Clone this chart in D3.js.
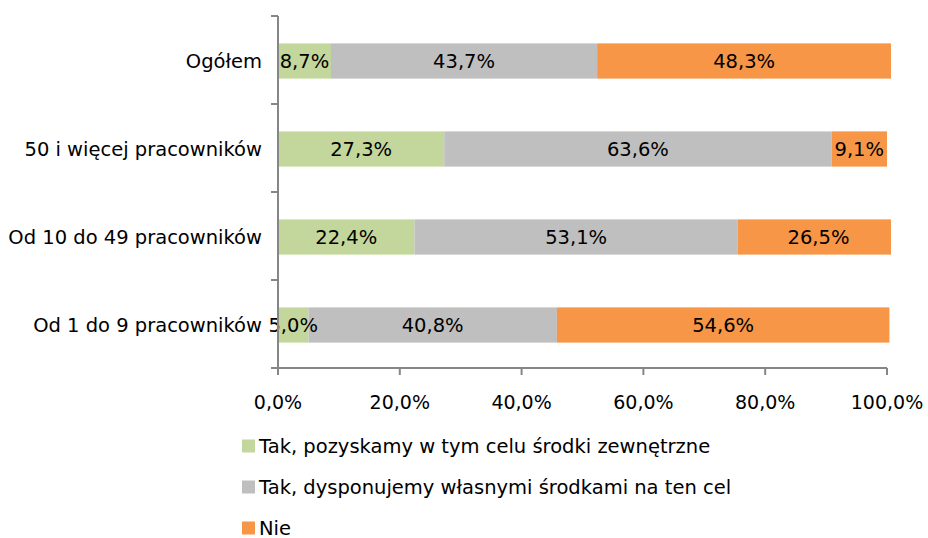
<!DOCTYPE html>
<html>
<head>
<meta charset="utf-8">
<script src="https://cdn.jsdelivr.net/npm/d3@7"></script>
<style>
  body { margin: 0; background: #fff; }
  text { font-family: "DejaVu Sans", Verdana, sans-serif; fill: #000; }
</style>
</head>
<body>
<svg id="chart" width="928" height="538"></svg>
<script>
const categories = ["Ogółem", "50 i więcej pracowników", "Od 10 do 49 pracowników", "Od 1 do 9 pracowników"];
const seriesNames = ["Tak, pozyskamy w tym celu środki zewnętrzne", "Tak, dysponujemy własnymi środkami na ten cel", "Nie"];
const external = [8.7, 27.3, 22.4, 5.0];
const own = [43.7, 63.6, 53.1, 40.8];
const no = [48.3, 9.1, 26.5, 54.6];
const xTicks = [0, 20, 40, 60, 80, 100];
const colors = ["#C3D69B", "#BFBFBF", "#F79646"];

const svg = d3.select("#chart");
const plotLeft = 278, plotRight = 887, plotTop = 17, plotBottom = 369;
const clipRight = 891; // bars past 100% get cut at the plot area edge
const axisColor = "#868686";
const fs = 19.5;
const fmt = (v) => v.toFixed(1).replace(".", ",") + "%";

const rows = categories.map((c, i) => ({ cat: c, s0: external[i], s1: own[i], s2: no[i] }));
const stack = d3.stack().keys(["s0", "s1", "s2"])(rows);

const x = d3.scaleLinear().domain([0, 100]).range([plotLeft, plotRight]);
const y = d3.scaleBand().domain(categories).range([plotTop, plotBottom])
  .paddingInner(0.6).paddingOuter(0.3);

svg.append("defs").append("clipPath").attr("id", "plot-clip")
  .append("rect")
  .attr("x", plotLeft).attr("y", 0)
  .attr("width", clipRight - plotLeft).attr("height", plotBottom);

// bars
const layer = svg.append("g")
  .attr("clip-path", "url(#plot-clip)")
  .selectAll("g")
  .data(stack)
  .enter()
  .append("g")
  .attr("fill", (d, i) => colors[i]);

layer.selectAll("rect")
  .data((d) => d)
  .enter()
  .append("rect")
  .attr("x", (d) => x(d[0]))
  .attr("width", (d) => x(d[1]) - x(d[0]))
  .attr("y", (d) => y(d.data.cat))
  .attr("height", y.bandwidth());

// segment labels
svg.append("g")
  .selectAll("g")
  .data(stack)
  .enter()
  .append("g")
  .selectAll("text")
  .data((d) => d.map((p) => ({ p, key: d.key })))
  .enter()
  .append("text")
  .attr("x", (d) => (x(d.p[0]) + x(d.p[1])) / 2)
  .attr("y", (d) => y(d.p.data.cat) + y.bandwidth() / 2)
  .attr("dy", "0.36em")
  .attr("text-anchor", "middle")
  .attr("font-size", fs)
  .text((d) => fmt(d.p.data[d.key]));

// y axis
const yAxis = svg.append("g").attr("stroke", axisColor).attr("stroke-width", 2);
yAxis.append("line").attr("x1", plotLeft).attr("x2", plotLeft).attr("y1", plotTop - 1).attr("y2", plotBottom);
yAxis.selectAll(".yt")
  .data(d3.range(categories.length + 1))
  .enter()
  .append("line")
  .attr("x1", plotLeft - 7).attr("x2", plotLeft)
  .attr("y1", (i) => plotTop - 1 + i * y.step())
  .attr("y2", (i) => plotTop - 1 + i * y.step());

svg.append("g")
  .selectAll("text")
  .data(categories)
  .enter()
  .append("text")
  .attr("x", plotLeft - 16)
  .attr("y", (d) => y(d) + y.bandwidth() / 2)
  .attr("dy", "0.36em")
  .attr("text-anchor", "end")
  .attr("font-size", fs)
  .text((d) => d);

// x axis
const xAxis = svg.append("g").attr("stroke", axisColor).attr("stroke-width", 2);
xAxis.append("line").attr("x1", plotLeft).attr("x2", plotRight).attr("y1", plotBottom - 1).attr("y2", plotBottom - 1);
xAxis.selectAll(".xt")
  .data(xTicks)
  .enter()
  .append("line")
  .attr("x1", (d) => x(d)).attr("x2", (d) => x(d))
  .attr("y1", plotBottom - 1).attr("y2", plotBottom + 6);

svg.append("g")
  .selectAll("text")
  .data(xTicks)
  .enter()
  .append("text")
  .attr("x", (d) => x(d))
  .attr("y", 409)
  .attr("text-anchor", "middle")
  .attr("font-size", 19)
  .text((d) => fmt(d));

// legend
const legend = svg.append("g")
  .selectAll("g")
  .data(seriesNames)
  .enter()
  .append("g")
  .attr("transform", (d, i) => `translate(242,${446 + i * 41})`);

legend.append("rect")
  .attr("x", 0).attr("y", -6.5)
  .attr("width", 13).attr("height", 13)
  .attr("fill", (d, i) => colors[i]);

legend.append("text")
  .attr("x", 17)
  .attr("dy", "0.36em")
  .attr("font-size", fs)
  .text((d) => d);
</script>
</body>
</html>
